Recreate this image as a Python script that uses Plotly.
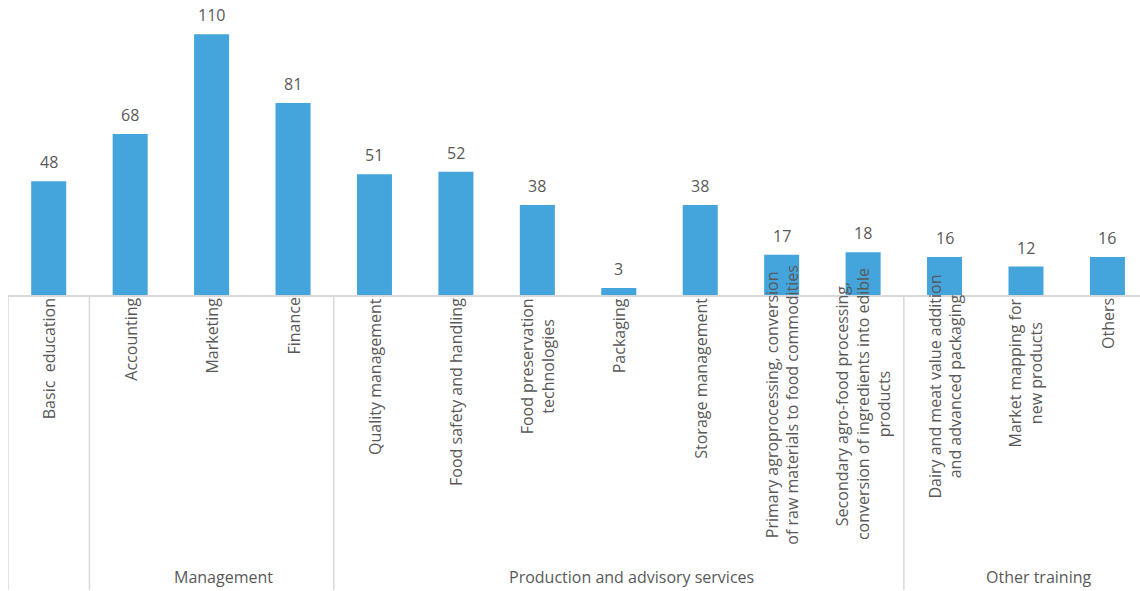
import plotly.graph_objects as go

categories = [
    "Basic\u00a0 education",
    "Accounting",
    "Marketing",
    "Finance",
    "Quality management",
    "Food safety and handling",
    "Food preservation<br>technologies",
    "Packaging",
    "Storage management",
    "Primary agroprocessing, conversion<br>of raw materials to food commodities",
    "Secondary agro-food processing,<br>conversion of ingredients into edible<br>products",
    "Dairy and meat value addition<br>and advanced packaging",
    "Market mapping for<br>new products",
    "Others",
]
values = [48, 68, 110, 81, 51, 52, 38, 3, 38, 17, 18, 16, 12, 16]
groups = ["",
          "Management", "Management", "Management",
          "Production and advisory services", "Production and advisory services",
          "Production and advisory services", "Production and advisory services",
          "Production and advisory services", "Production and advisory services",
          "Production and advisory services",
          "Other training", "Other training", "Other training"]

# style: upward shift (px) for labels that overflow the axis area
label_lift = {9: 33, 10: 30, 11: 23}

BAR = "#43A5DC"
TXT = "#595959"
GRID = "#D9D9D9"
FONT = "Open Sans"

x = list(range(len(categories)))

fig = go.Figure()
fig.add_trace(go.Bar(x=x, y=values, marker=dict(color=BAR, line=dict(width=0)),
                     width=0.43, hoverinfo="skip"))

annotations = []
# value labels
for i, v in zip(x, values):
    annotations.append(dict(x=i, y=v, xref="x", yref="y", text=str(v), showarrow=False,
                            yanchor="bottom", yshift=6,
                            font=dict(family=FONT, size=16, color=TXT)))
# category labels (rotated)
for i, c in zip(x, categories):
    annotations.append(dict(x=i, y=0, xref="x", yref="paper", text=c, showarrow=False,
                            textangle=-90, yanchor="top", xanchor="center", align="center",
                            yshift=-1 + label_lift.get(i, 0),
                            font=dict(family=FONT, size=16, color=TXT)))

# group spans
spans = []
for i, g in enumerate(groups):
    if spans and spans[-1][0] == g:
        spans[-1][2] = i
    else:
        spans.append([g, i, i])

shapes = []
for g, a, b in spans:
    shapes.append(dict(type="line", xref="x", yref="paper", x0=a - 0.5, x1=a - 0.5,
                       y0=0, y1=-1.0, line=dict(color=GRID, width=1.5)))
    if g:
        annotations.append(dict(x=(a + b) / 2 + 0.15, y=-0.955, xref="x", yref="paper",
                                text=g, showarrow=False, yanchor="middle",
                                font=dict(family=FONT, size=16, color=TXT)))

fig.update_layout(
    width=1140, height=591,
    margin=dict(l=8, r=0, t=0, b=296),
    paper_bgcolor="white", plot_bgcolor="white",
    showlegend=False,
    xaxis=dict(range=[-0.5, 13.4], showticklabels=False, showgrid=False, zeroline=False,
               showline=True, linecolor=GRID, linewidth=1.5, ticks=""),
    yaxis=dict(range=[0, 124.5], visible=False),
    annotations=annotations,
    shapes=shapes,
    bargap=0.57,
)

fig.write_html("out.html", config={"displayModeBar": False})
